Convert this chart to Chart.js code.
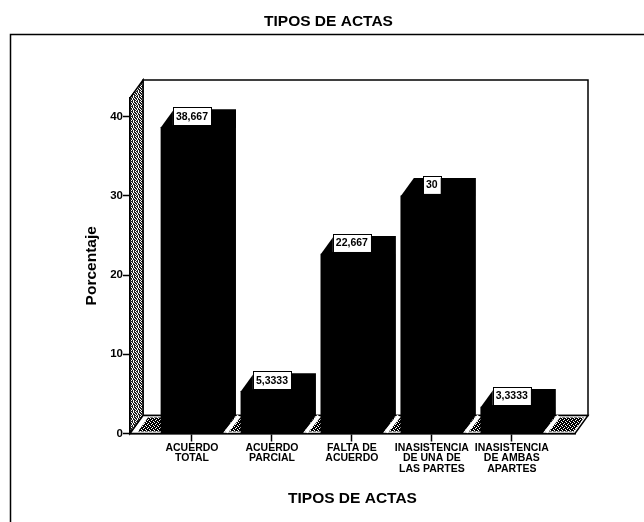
<!DOCTYPE html>
<html>
<head>
<meta charset="utf-8">
<style>html,body{margin:0;padding:0;background:#fff}canvas{display:block}</style>
<script src="https://cdn.jsdelivr.net/npm/chart.js@4"></script>
</head>
<body>
<canvas id="c" width="644" height="522"></canvas>
<script>
const categories = [
  ['ACUERDO','TOTAL'],
  ['ACUERDO','PARCIAL'],
  ['FALTA DE','ACUERDO'],
  ['INASISTENCIA','DE UNA DE','LAS PARTES'],
  ['INASISTENCIA','DE AMBAS','APARTES']
];
const values = [38.667, 5.3333, 22.667, 30, 3.3333];
const yTicks = [0, 10, 20, 30, 40];
const chartTitle = 'TIPOS DE ACTAS';
const xTitle = 'TIPOS DE ACTAS';
const yTitle = 'Porcentaje';

const FONT = '"Liberation Sans", Arial, sans-serif';
const DX = 13, DY = 18;

function stipple(ctx, rows, dark) {
  const n = rows.length;
  const c = document.createElement('canvas');
  c.width = n; c.height = n;
  const g = c.getContext('2d');
  g.fillStyle = '#fff'; g.fillRect(0, 0, n, n);
  g.fillStyle = dark;
  rows.forEach((r, y) => [...r].forEach((ch, x) => { if (ch === '#') g.fillRect(x, y, 1, 1); }));
  return ctx.createPattern(c, 'repeat');
}
function poly(ctx, pts) {
  ctx.beginPath();
  pts.forEach((p, i) => i ? ctx.lineTo(p[0], p[1]) : ctx.moveTo(p[0], p[1]));
  ctx.closePath();
}

const frame3d = {
  id: 'frame3d',
  beforeDraw(chart) {
    const ctx = chart.ctx;
    ctx.save();
    ctx.strokeStyle = '#000'; ctx.lineWidth = 1.5;
    ctx.beginPath();
    ctx.moveTo(10.5, chart.height); ctx.lineTo(10.5, 34.5); ctx.lineTo(chart.width, 34.5);
    ctx.stroke();
    ctx.restore();
  },
  beforeDatasetsDraw(chart) {
    const ctx = chart.ctx, a = chart.chartArea;
    const L = a.left, R = a.right, T = a.top, B = a.bottom;
    ctx.save();
    ctx.lineWidth = 1.5; ctx.strokeStyle = '#000';
    // back wall
    poly(ctx, [[L+DX,T-DY],[R+DX,T-DY],[R+DX,B-DY],[L+DX,B-DY]]);
    ctx.fillStyle = '#fff'; ctx.fill(); ctx.stroke();
    // left wall
    poly(ctx, [[L,T],[L+DX,T-DY],[L+DX,B-DY],[L,B]]);
    ctx.fillStyle = stipple(ctx, ['#.#.#','.##.#','#.#.#','##.#.','.#.##'], '#222');
    ctx.fill(); ctx.stroke();
    // floor
    poly(ctx, [[L,B],[L+DX,B-DY],[R+DX,B-DY],[R,B]]);
    ctx.fillStyle = '#fff'; ctx.fill(); ctx.stroke();
    // inner floor pattern
    poly(ctx, [[L+8,B-2],[L+18,B-16],[R+9,B-16],[R-1,B-2]]);
    ctx.fillStyle = stipple(ctx, ['###.','#.##','##.#','.###'], '#000');
    ctx.fill();
    // depth faces of the bars
    const meta = chart.getDatasetMeta(0);
    meta.data.forEach(bar => {
      const x1 = bar.x - bar.width / 2, x2 = bar.x + bar.width / 2, y = bar.y, b = bar.base;
      // white edge beside the side face on the floor
      ctx.strokeStyle = '#fff'; ctx.lineWidth = 4;
      ctx.beginPath(); ctx.moveTo(x2 + 3, b - 1); ctx.lineTo(x2 + DX + 3, b - DY + 1); ctx.stroke();
      ctx.fillStyle = '#000';
      poly(ctx, [[x1,y],[x1+DX,y-DY],[x2+DX,y-DY],[x2+DX,b-DY],[x2,b],[x1,b]]);
      ctx.fill();
    });
    ctx.restore();
  },
  afterDatasetsDraw(chart) {
    const ctx = chart.ctx;
    const meta = chart.getDatasetMeta(0);
    ctx.save();
    ctx.font = 'bold 10.5px ' + FONT;
    ctx.textAlign = 'center'; ctx.textBaseline = 'middle';
    meta.data.forEach((bar, i) => {
      const txt = String(values[i]).replace('.', ',');
      const w = ctx.measureText(txt).width + 6, h = 18;
      const cx = bar.x, cy = bar.y - 11;
      ctx.fillStyle = '#fff'; ctx.strokeStyle = '#000'; ctx.lineWidth = 1;
      ctx.fillRect(cx - w/2, cy - h/2, w, h);
      ctx.strokeRect(Math.round(cx - w/2) + .5, Math.round(cy - h/2) + .5, Math.round(w), h);
      ctx.fillStyle = '#000';
      ctx.fillText(txt, cx, cy + .5);
    });
    ctx.restore();
  }
};

new Chart(document.getElementById('c'), {
  type: 'bar',
  data: {
    datasets: [{
      data: values.map((v, i) => ({ x: i, y: v })),
      backgroundColor: '#000',
      borderWidth: 0,
      barThickness: 62
    }]
  },
  plugins: [frame3d],
  options: {
    responsive: false,
    animation: false,
    layout: { padding: { left: 82, right: 69, top: 12, bottom: 14 } },
    plugins: {
      legend: { display: false },
      tooltip: { enabled: false },
      title: {
        display: true, text: chartTitle, color: '#000',
        font: { family: FONT, size: 15.5, weight: 'bold' },
        padding: { top: 0, bottom: 67.4 }
      }
    },
    scales: {
      x: {
        type: 'linear', offset: false, bounds: 'data', min: -0.775, max: 4.79,
        afterFit(s) { s.height = 74.5; },
        afterBuildTicks(s) { s.ticks = categories.map((c, i) => ({ value: i })); },
        grid: { display: true, offset: false, drawOnChartArea: false, drawTicks: true, tickLength: 8, tickColor: '#000', tickWidth: 1.5 },
        border: { display: true, color: '#000', width: 1.5 },
        ticks: {
          color: '#000', maxRotation: 0, autoSkip: false, padding: 1,
          font: { family: FONT, size: 10.5, weight: 'bold', lineHeight: 1 },
          callback: v => categories[v]
        },
        title: { display: true, text: xTitle, color: '#000', padding: 0, font: { family: FONT, size: 15.5, weight: 'bold' } }
      },
      y: {
        bounds: 'data', min: 0, max: 42.36,
        afterFit(s) { s.width = 48; },
        afterBuildTicks(s) { s.ticks = yTicks.map(v => ({ value: v })); },
        grid: { display: true, drawOnChartArea: false, drawTicks: true, tickLength: 7, tickColor: '#000', tickWidth: 1.5 },
        border: { display: true, color: '#000', width: 1.5 },
        ticks: { color: '#000', padding: 0, font: { family: FONT, size: 11.5, weight: 'bold' } },
        title: { display: true, text: yTitle, color: '#000', padding: 0, font: { family: FONT, size: 15.5, weight: 'bold' } }
      }
    }
  }
});
</script>
</body>
</html>
